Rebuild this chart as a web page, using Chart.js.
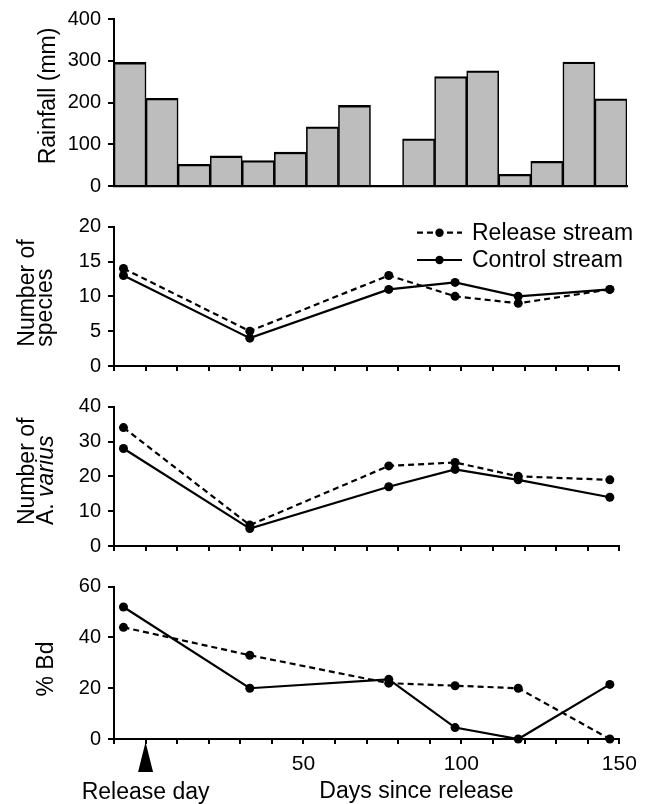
<!DOCTYPE html>
<html>
<head>
<meta charset="utf-8">
<script src="https://cdn.jsdelivr.net/npm/chart.js@4.4.1/dist/chart.umd.min.js"></script>
<style>
html,body{margin:0;padding:0;background:#fff;}
#wrap{position:relative;width:645px;height:804px;overflow:hidden;background:#fff;}
.panel{position:absolute;left:0;width:645px;}
</style>
</head>
<body>
<div id="wrap">
  <div class="panel" style="top:0px;height:205px"><canvas id="c1"></canvas></div>
  <div class="panel" style="top:205px;height:180px"><canvas id="c2"></canvas></div>
  <div class="panel" style="top:385px;height:180px"><canvas id="c3"></canvas></div>
  <div class="panel" style="top:565px;height:239px"><canvas id="c4"></canvas></div>
</div>
<script>
// ---------- DATA ----------
const rainMonths = ['M1','M2','M3','M4','M5','M6','M7','M8','M9','M10','M11','M12','M13','M14','M15','M16'];
const rainfall = [296, 210, 52, 72, 61, 81, 142, 193, 0, 113, 262, 276, 28, 59, 297, 209];
const rainTicks = [0, 100, 200, 300, 400];

const sampleDays = [-7, 33, 77, 98, 118, 147];
const speciesRelease = [14, 5, 13, 10, 9, 11];
const speciesControl = [13, 4, 11, 12, 10, 11];
const variusRelease = [34, 6, 23, 24, 20, 19];
const variusControl = [28, 5, 17, 22, 19, 14];
const bdRelease = [44, 33, 22, 21, 20, 0];
const bdControl = [52, 20, 23.5, 4.5, 0, 21.5];

const dayTickLabels = [50, 100, 150];
const releaseDay = 0;
const seriesNames = ['Release stream', 'Control stream'];

// ---------- STYLE ----------
const FONT = "'Liberation Sans', Arial, Helvetica, sans-serif";
const TITLE_SIZE = 23;
Chart.defaults.font.family = FONT;
Chart.defaults.color = '#000';
Chart.defaults.animation = false;

const pts = (arr) => sampleDays.map((d, i) => ({x: d, y: arr[i]}));

function lineSets(rel, ctl) {
  return [
    {label: seriesNames[0], data: pts(rel), borderColor: '#000', backgroundColor: '#000',
     borderWidth: 2.2, borderDash: [6, 4], pointRadius: 4.5, pointHoverRadius: 4.5,
     pointBackgroundColor: '#000', pointBorderWidth: 0, tension: 0, clip: false},
    {label: seriesNames[1], data: pts(ctl), borderColor: '#000', backgroundColor: '#000',
     borderWidth: 2.2, pointRadius: 4.5, pointHoverRadius: 4.5,
     pointBackgroundColor: '#000', pointBorderWidth: 0, tension: 0, clip: false}
  ];
}

// custom text / legend / arrow plugin
const panelText = {
  id: 'panelText',
  afterDraw(chart, args, opts) {
    const ctx = chart.ctx;
    (opts.items || []).forEach(it => {
      ctx.save();
      ctx.fillStyle = '#000';
      ctx.textBaseline = 'alphabetic';
      ctx.translate(it.x, it.y);
      if (it.rotate) ctx.rotate(-Math.PI / 2);
      const parts = it.parts || [{t: it.text}];
      const size = it.size || TITLE_SIZE;
      let total = 0;
      parts.forEach(p => { ctx.font = (p.italic ? 'italic ' : '') + size + 'px ' + FONT; p.w = ctx.measureText(p.t).width; total += p.w; });
      let x0 = it.align === 'center' ? -total / 2 : 0;
      ctx.textAlign = 'left';
      parts.forEach(p => { ctx.font = (p.italic ? 'italic ' : '') + size + 'px ' + FONT; ctx.fillText(p.t, x0, 0); x0 += p.w; });
      ctx.restore();
    });
    if (opts.legend) {
      const L = opts.legend;
      chart.data.datasets.forEach((ds, i) => {
        const y = L.y + i * L.dy;
        ctx.save();
        ctx.strokeStyle = ds.borderColor;
        ctx.lineWidth = ds.borderWidth;
        ctx.setLineDash(ds.borderDash || []);
        ctx.beginPath();
        ctx.moveTo(L.x0, y); ctx.lineTo(L.x1, y); ctx.stroke();
        ctx.setLineDash([]);
        ctx.fillStyle = ds.pointBackgroundColor;
        ctx.beginPath(); ctx.arc((L.x0 + L.x1) / 2, y, 4.2, 0, Math.PI * 2); ctx.fill();
        ctx.font = TITLE_SIZE + 'px ' + FONT;
        ctx.textBaseline = 'middle';
        ctx.textAlign = 'left';
        ctx.fillText(ds.label, L.tx, y + 1);
        ctx.restore();
      });
    }
    if (opts.arrow) {
      const A = opts.arrow;
      const x = chart.scales.x.getPixelForValue(A.value);
      ctx.save();
      ctx.fillStyle = '#000';
      ctx.beginPath();
      ctx.moveTo(x, A.top); ctx.lineTo(x + A.hw, A.bottom); ctx.lineTo(x - A.hw, A.bottom); ctx.closePath();
      ctx.fill();
      ctx.font = TITLE_SIZE + 'px ' + FONT;
      ctx.textAlign = 'center';
      ctx.textBaseline = 'alphabetic';
      ctx.fillText(A.label, x, A.labelY);
      ctx.restore();
    }
  }
};
Chart.register(panelText);

function yAxis(max, step, labelEvery) {
  return {
    min: 0, max: max,
    afterFit: s => { s.width = 114; },
    ticks: {stepSize: step, font: {size: 20}, padding: 7, color: '#000',
            callback: v => (v % labelEvery === 0 ? String(v) : '')},
    grid: {display: true, drawOnChartArea: false, drawTicks: true, tickLength: 6, color: '#000', lineWidth: 2},
    border: {display: true, color: '#000', width: 2}
  };
}

function xAxis(height, showLabels) {
  return {
    type: 'linear', min: -10, max: 150,
    afterFit: s => { s.height = height; },
    ticks: {stepSize: 10, font: {size: 21}, padding: 8, color: '#000', maxRotation: 0, autoSkip: false,
            callback: v => (showLabels && dayTickLabels.includes(v) ? String(v) : '')},
    grid: {display: true, drawOnChartArea: false, drawTicks: true, tickLength: 5, color: '#000', lineWidth: 2},
    border: {display: true, color: '#000', width: 2}
  };
}

const baseOpts = {responsive: true, maintainAspectRatio: false, animation: false, events: []};

// ---------- PANEL 1: rainfall ----------
new Chart(document.getElementById('c1'), {
  type: 'bar',
  data: {labels: rainMonths, datasets: [{
    label: 'Rainfall (mm)', data: rainfall, backgroundColor: '#bdbdbd', borderColor: '#000',
    borderWidth: {top: 2.3, left: 1.6, right: 1.6, bottom: 0}, borderSkipped: 'bottom',
    barPercentage: 1, categoryPercentage: 1
  }]},
  options: Object.assign({}, baseOpts, {
    layout: {padding: {top: 16.7, right: 18, bottom: 0, left: 0}},
    plugins: {legend: {display: false}, tooltip: {enabled: false},
      panelText: {items: [{text: 'Rainfall (mm)', x: 55, y: 96, rotate: true, align: 'center'}]}},
    scales: {
      x: {afterFit: s => { s.height = 8.3; }, ticks: {display: false},
          grid: {display: false}, border: {display: true, color: '#000', width: 2.2}},
      y: Object.assign(yAxis(400, 100, 100), {afterBuildTicks: s => { s.ticks = rainTicks.map(v => ({value: v})); }})
    }
  })
});

// ---------- PANEL 2: number of species ----------
new Chart(document.getElementById('c2'), {
  type: 'line',
  data: {datasets: lineSets(speciesRelease, speciesControl)},
  options: Object.assign({}, baseOpts, {
    layout: {padding: {top: 21.7, right: 25.7, bottom: 0, left: 0}},
    plugins: {legend: {display: false}, tooltip: {enabled: false},
      panelText: {
        items: [
          {text: 'Number of', x: 33.5, y: 141.7, rotate: true},
          {text: 'species', x: 51.5, y: 141.7, rotate: true}
        ],
        legend: {x0: 417, x1: 462, tx: 472, y: 27.7, dy: 27.3}
      }},
    scales: {x: xAxis(6, false), y: yAxis(20, 5, 5)}
  })
});

// ---------- PANEL 3: number of A. varius ----------
new Chart(document.getElementById('c3'), {
  type: 'line',
  data: {datasets: lineSets(variusRelease, variusControl)},
  options: Object.assign({}, baseOpts, {
    layout: {padding: {top: 21.7, right: 25.7, bottom: 0, left: 0}},
    plugins: {legend: {display: false}, tooltip: {enabled: false},
      panelText: {items: [
        {text: 'Number of', x: 33.5, y: 140, rotate: true},
        {parts: [{t: 'A. '}, {t: 'varius', italic: true}], x: 52.5, y: 140, rotate: true}
      ]}},
    scales: {x: xAxis(6, false), y: yAxis(40, 5, 10)}
  })
});

// ---------- PANEL 4: % Bd ----------
new Chart(document.getElementById('c4'), {
  type: 'line',
  data: {datasets: lineSets(bdRelease, bdControl)},
  options: Object.assign({}, baseOpts, {
    layout: {padding: {top: 21.7, right: 25.7, bottom: 0, left: 0}},
    plugins: {legend: {display: false}, tooltip: {enabled: false},
      panelText: {
        items: [
          {text: '% Bd', x: 53, y: 104, rotate: true, align: 'center'},
          {text: 'Days since release', x: 416.5, y: 233, align: 'center'}
        ],
        arrow: {value: releaseDay, top: 177, bottom: 207, hw: 7.5, label: 'Release day', labelY: 234}
      }},
    scales: {x: xAxis(65, true), y: yAxis(60, 10, 20)}
  })
});
</script>
</body>
</html>
